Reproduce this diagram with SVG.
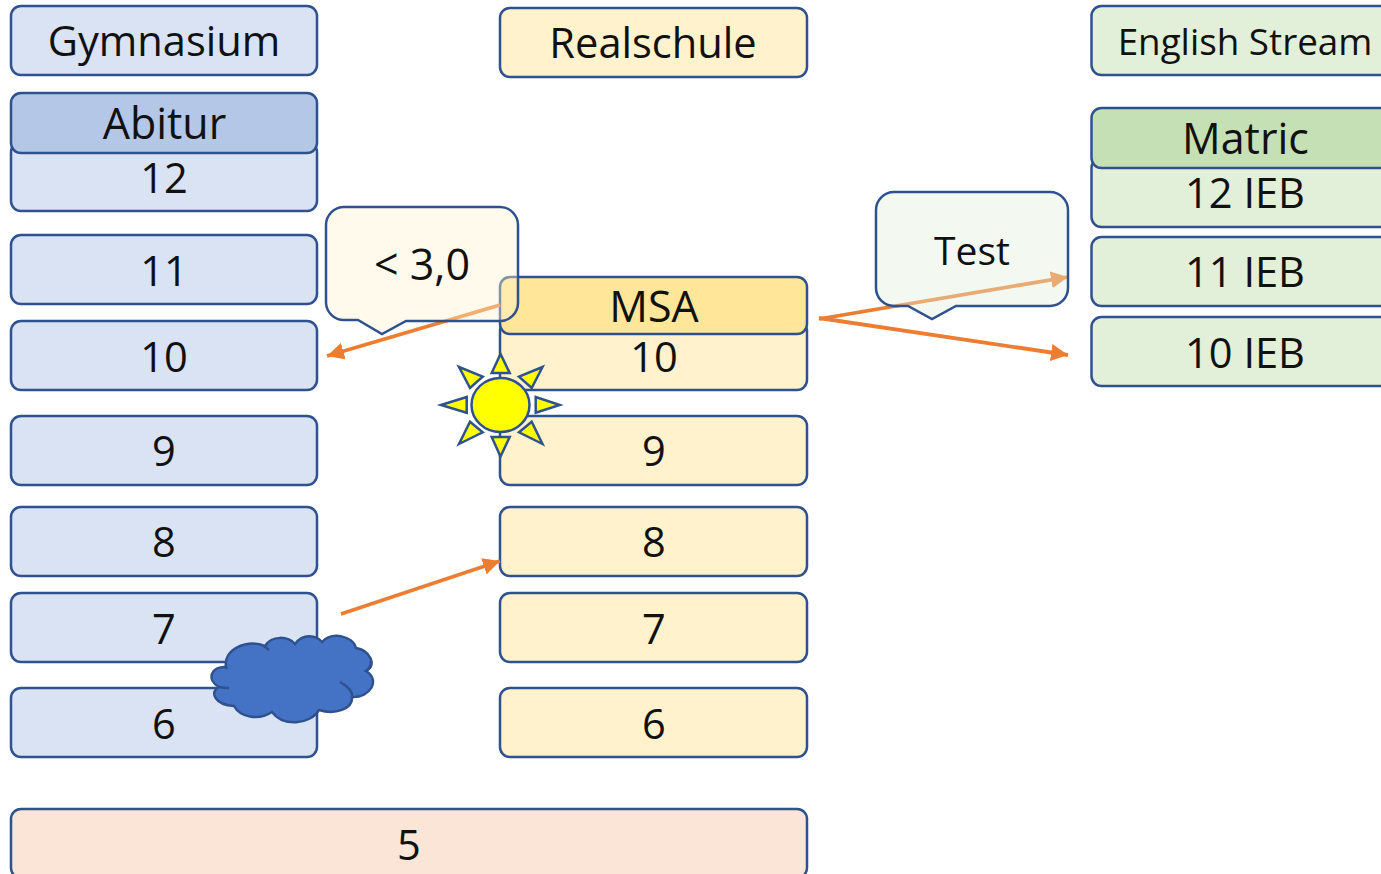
<svg xmlns="http://www.w3.org/2000/svg" width="1381" height="874" viewBox="0 0 1381 874">
<style>
.b{stroke:#2F528F;stroke-width:2.5}
.blue{fill:#DAE3F3}.yel{fill:#FFF2CC}.grn{fill:#E2F0D9}.red{fill:#FBE5D6}
text{font-family:"Open Sans","Liberation Sans",sans-serif;font-size:41.6px;fill:#111;text-anchor:middle}
.lg{font-size:43px}
.ar{stroke:#ED7D31;stroke-width:3.8;fill:none}
.ray{fill:#FFFF00;stroke:#2F528F;stroke-width:2.5;stroke-linejoin:miter}
</style>
<defs>
<marker id="ah" markerUnits="userSpaceOnUse" markerWidth="18" markerHeight="17" refX="17" refY="8.5" orient="auto"><path d="M0,0L17,8.5L0,17Z" fill="#ED7D31"/></marker>
</defs>
<rect width="1381" height="874" fill="#fff"/>
<g id="gymnasium"><rect class="b blue" x="11" y="6" width="306" height="69" rx="10"/><text x="164" y="55.5">Gymnasium</text></g>
<g id="g12"><rect class="b blue" x="11" y="142" width="306" height="69" rx="10"/><text x="164" y="192.5">12</text></g>
<g id="abitur"><rect class="b" fill="#B4C7E7" x="11" y="93" width="306" height="60" rx="10"/><text class="lg" x="164.5" y="139">Abitur</text></g>
<g id="g11"><rect class="b blue" x="11" y="235" width="306" height="69" rx="10"/><text x="164" y="285.5">11</text></g>
<g id="g10"><rect class="b blue" x="11" y="321" width="306" height="69" rx="10"/><text x="164" y="371.5">10</text></g>
<g id="g9"><rect class="b blue" x="11" y="416" width="306" height="69" rx="10"/><text x="164" y="466">9</text></g>
<g id="g8"><rect class="b blue" x="11" y="507" width="306" height="69" rx="10"/><text x="164" y="557">8</text></g>
<g id="g7"><rect class="b blue" x="11" y="593" width="306" height="69" rx="10"/><text x="164" y="643.5">7</text></g>
<g id="g6"><rect class="b blue" x="11" y="688" width="306" height="69" rx="10"/><text x="164" y="738.5">6</text></g>
<g id="g5"><rect class="b red" x="11" y="809" width="796" height="69" rx="10"/><text x="409" y="860">5</text></g>
<g id="realschule"><rect class="b yel" x="500" y="8" width="307" height="69" rx="10"/><text x="653" y="58">Realschule</text></g>
<g id="r10"><rect class="b yel" x="500" y="321" width="307" height="69" rx="10"/><text x="654" y="371.5">10</text></g>
<g id="msa"><rect class="b" fill="#FFE699" x="500" y="277" width="307" height="57" rx="10"/><text class="lg" x="654" y="321.5">MSA</text></g>
<g id="r9"><rect class="b yel" x="500" y="416" width="307" height="69" rx="10"/><text x="654" y="466">9</text></g>
<g id="r8"><rect class="b yel" x="500" y="507" width="307" height="69" rx="10"/><text x="654" y="557">8</text></g>
<g id="r7"><rect class="b yel" x="500" y="593" width="307" height="69" rx="10"/><text x="654" y="643.5">7</text></g>
<g id="r6"><rect class="b yel" x="500" y="688" width="307" height="69" rx="10"/><text x="654" y="738.5">6</text></g>
<g id="english"><rect class="b grn" x="1091.5" y="6" width="310" height="69" rx="10"/><text x="1245" y="55" style="font-size:36.8px">English Stream</text></g>
<g id="e12"><rect class="b grn" x="1091.5" y="158" width="310" height="69" rx="10"/><text x="1245" y="207.5">12 IEB</text></g>
<g id="matric"><rect class="b" fill="#C5E0B4" x="1091.5" y="108" width="310" height="60" rx="10"/><text class="lg" x="1245.5" y="153.5">Matric</text></g>
<g id="e11"><rect class="b grn" x="1091.5" y="237" width="310" height="69" rx="10"/><text x="1245" y="286.5">11 IEB</text></g>
<g id="e10"><rect class="b grn" x="1091.5" y="317" width="310" height="69" rx="10"/><text x="1245" y="367.5">10 IEB</text></g>
<g id="connectors">
<line class="ar" x1="500" y1="305" x2="327" y2="356" marker-end="url(#ah)"/>
<line class="ar" x1="341" y1="614" x2="500" y2="561" marker-end="url(#ah)"/>
<line class="ar" x1="819" y1="319" x2="1068" y2="277" marker-end="url(#ah)"/>
<line class="ar" x1="819" y1="318" x2="1068" y2="355" marker-end="url(#ah)"/>
</g>
<g id="callout-grade"><path d="M344,207H500A18,18 0 0 1 518,225V303A18,18 0 0 1 500,321H406L382,334L358,320H344A18,18 0 0 1 326,303V225A18,18 0 0 1 344,207Z" fill="#FFF2CC" fill-opacity=".4" stroke="#2F528F" stroke-width="2.5"/><text class="lg" x="422" y="280">&lt; 3,0</text></g>
<g id="callout-test"><path d="M894,192H1050A18,18 0 0 1 1068,210V288A18,18 0 0 1 1050,306H956L932,319L908,306H894A18,18 0 0 1 876,288V210A18,18 0 0 1 894,192Z" fill="#E2F0D9" fill-opacity=".4" stroke="#2F528F" stroke-width="2.5"/><text x="972" y="264.5" style="font-size:39px">Test</text></g>
<g id="sun">
<ellipse cx="500.5" cy="405" rx="29" ry="27" class="ray"/>
<path class="ray" d="M500.5,354L491.7,373H509.7Z"/>
<path class="ray" d="M500.5,456.5L491.7,437H509.7Z"/>
<path class="ray" d="M441,405L466.7,397V412.7Z"/>
<path class="ray" d="M559.7,405L535.7,397V412.7Z"/>
<path class="ray" d="M459,367L482.7,376.7L470,388Z"/>
<path class="ray" d="M542.5,367L519,376.7L531.7,388Z"/>
<path class="ray" d="M459,444L482.7,432.3L470,421.7Z"/>
<path class="ray" d="M542.5,444L519,432.3L531.7,421.7Z"/>
</g>
<g id="cloud" fill="#4472C4" stroke="#2F528F" stroke-width="2.5">
<path d="M226,667C223,649 247,639 265,646C272,635 288,636 295,644C303,633 316,635 322,642C332,631 353,636 356,648C369,650 378,665 366,671C381,680 370,698 352,697C353,709 335,715 319,710C310,725 283,727 272,712C258,721 240,717 234,706C215,705 209,692 219,687C206,680 211,666 226,667Z"/>
<path fill="none" d="M264,646L269,650M366,671C369,669 371,667 371,661M340,682C348,686 353,692 352,697M229,688C226,688 223,688 219,687M226,667L227,669"/>
</g>
</svg>
